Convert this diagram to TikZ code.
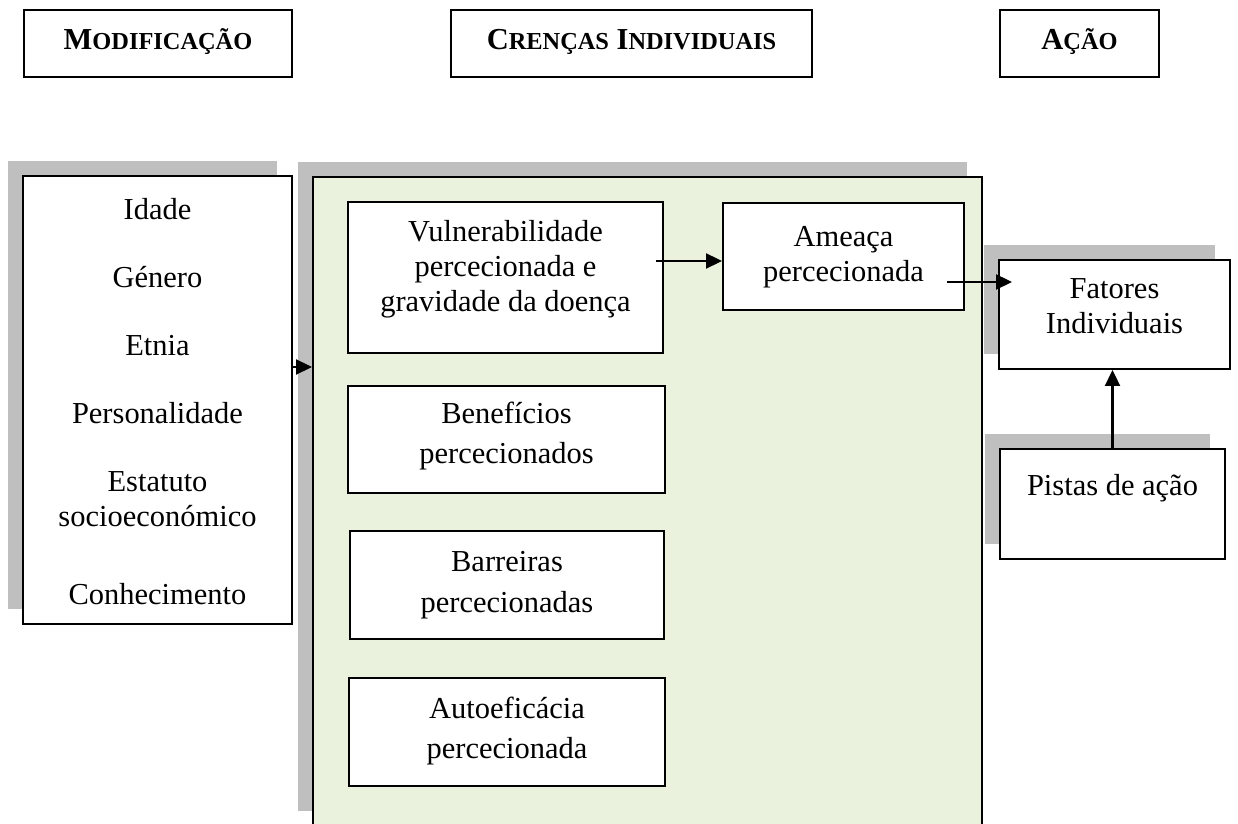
\documentclass[tikz,border=0pt]{standalone}
\usepackage{fontspec}
\setmainfont{Liberation Serif}
\usetikzlibrary{arrows.meta,shadows}

\definecolor{shadowgray}{HTML}{BFBFBF}
\definecolor{beliefgreen}{HTML}{EAF1DD}
\newdimen\pxu
\pxu=0.3937pt
\newcommand{\fakesc}[2]{#1{\fontsize{9.6}{12}\selectfont #2}}

\begin{document}
\begin{tikzpicture}[x=0.3937pt, y=-0.3937pt, >={Triangle[length=6.3pt,width=5.9pt]},
    every node/.style={font=\fontsize{12}{13.8}\selectfont},
    plainbox/.style={draw, line width=0.75pt, fill=white, inner sep=0pt},
    shadowbox/.style={plainbox, general shadow={fill=shadowgray, shadow xshift=-6.1pt, shadow yshift=6.1pt}},
    boxtxt/.style={anchor=north, align=center, inner sep=0pt, yshift=-7.5pt},
    loosetxt/.style={boxtxt, font=\fontsize{12}{16.1}\selectfont},
    headbox/.style={plainbox, font=\bfseries\fontsize{12}{13.8}\selectfont, text height=15.7pt, text depth=10.7pt},
    link/.style={->, line width=0.8pt}]
    \useasboundingbox (0,0) rectangle (1238,824);

    \node[headbox, minimum width=268*\pxu] (modh) at (158,43.5) {\fakesc{M}{ODIFICAÇÃO}};
    \node[headbox, minimum width=361*\pxu] (crenh) at (631.5,43.5) {\fakesc{C}{RENÇAS} \fakesc{I}{NDIVIDUAIS}};
    \node[headbox, minimum width=159*\pxu] (acaoh) at (1079.5,43.5) {\fakesc{A}{ÇÃO}};

    \node[shadowbox, minimum width=269*\pxu, minimum height=448*\pxu] (mods) at (157.5,400) {};
    \node[anchor=base] (idade) at (157.5,220) {Idade};
    \node[anchor=base] (genero) at (157.5,288) {Género};
    \node[anchor=base] (etnia) at (157.5,356) {Etnia};
    \node[anchor=base] (person) at (157.5,424) {Personalidade};
    \node[anchor=base] (estat) at (157.5,492) {Estatuto};
    \node[anchor=base] (socio) at (157.5,527) {socioeconómico};
    \node[anchor=base] (conhec) at (157.5,605) {Conhecimento};

    \node[shadowbox, fill=beliefgreen, minimum width=669*\pxu, minimum height=649*\pxu] (crencas) at (647.5,501.5) {};
    \node[plainbox, minimum width=315*\pxu, minimum height=151*\pxu,
        label={[boxtxt]north:{Vulnerabilidade\\percecionada e\\gravidade da doença}}] (vuln) at (505.5,277.5) {};
    \node[plainbox, minimum width=241*\pxu, minimum height=107*\pxu,
        label={[boxtxt, yshift=-5*\pxu]north:{Ameaça\\percecionada}}] (ameaca) at (843.5,256.5) {};
    \node[plainbox, minimum width=317*\pxu, minimum height=107*\pxu,
        label={[loosetxt, yshift=3*\pxu]north:{Benefícios\\percecionados}}] (benef) at (506.5,439.5) {};
    \node[plainbox, minimum width=314*\pxu, minimum height=108*\pxu,
        label={[loosetxt, yshift=-2*\pxu]north:{Barreiras\\percecionadas}}] (barr) at (507,585) {};
    \node[plainbox, minimum width=316*\pxu, minimum height=108*\pxu,
        label={[loosetxt]north:{Autoeficácia\\percecionada}}] (auto) at (507,732) {};

    \node[shadowbox, minimum width=231*\pxu, minimum height=109*\pxu,
        label={[boxtxt]north:{Fatores\\Individuais}}] (fatores) at (1114.5,314.5) {};
    \node[shadowbox, minimum width=225*\pxu, minimum height=110*\pxu,
        label={[boxtxt, yshift=-7*\pxu]north:{Pistas de ação}}] (pistas) at (1112.5,504) {};

    \coordinate (modout) at ([yshift=33*\pxu]mods.east);
    \draw[link] (modout) -- (modout -| crencas.west);
    \coordinate (vulnout) at ([xshift=-8*\pxu, yshift=16.5*\pxu]vuln.east);
    \draw[link] (vulnout) -- (vulnout -| ameaca.west);
    \coordinate (ameout) at ([xshift=-18*\pxu, yshift=-25.5*\pxu]ameaca.east);
    \draw[link, shorten >=-14*\pxu] (ameout) -- (ameout -| fatores.west);
    \draw[link] (pistas.north) -- (pistas.north |- fatores.south);
\end{tikzpicture}
\end{document}
